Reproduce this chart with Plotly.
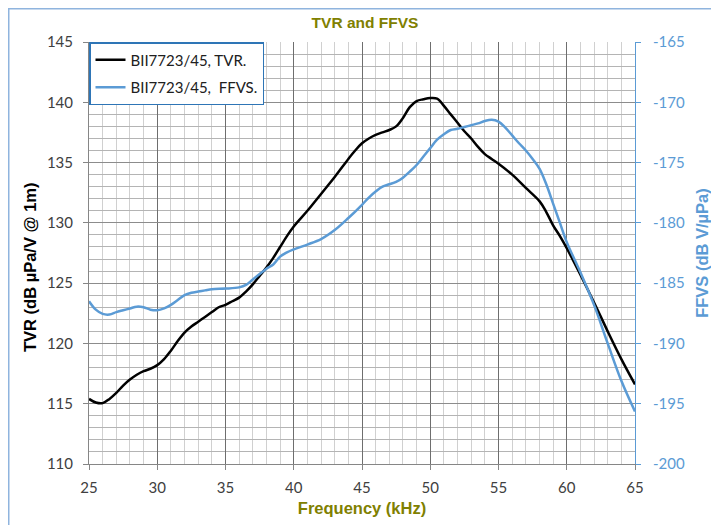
import plotly.graph_objects as go

# Frequency (kHz)
tvr_freq = [25, 25.5, 26, 26.5, 27, 27.5, 28, 28.5, 29, 29.5, 30, 30.5, 31, 31.5, 32, 32.5,
            33, 33.5, 34, 34.5, 35, 35.5, 36, 36.5, 37, 37.5, 38, 38.5, 39, 39.5, 40, 41,
            42, 43, 44, 44.5, 45, 45.5, 46, 46.5, 47, 47.5, 48, 48.5, 49, 49.5, 50, 50.5,
            51, 51.5, 52, 52.5, 53, 53.5, 54, 54.5, 55, 56, 57, 58, 58.5, 59, 59.5, 60, 61,
            62, 63, 64, 65]
# TVR (dB uPa/V @ 1m)
tvr_vals = [115.4, 115.1, 115.05, 115.4, 115.9, 116.5, 117.0, 117.4, 117.7, 117.9, 118.2,
            118.7, 119.4, 120.2, 120.9, 121.4, 121.8, 122.2, 122.6, 123.0, 123.2, 123.5,
            123.8, 124.3, 124.9, 125.6, 126.3, 127.1, 128.0, 128.9, 129.7, 131.0, 132.4,
            133.8, 135.3, 136.0, 136.6, 137.0, 137.3, 137.5, 137.7, 138.0, 138.7, 139.6,
            140.1, 140.25, 140.35, 140.3, 139.7, 139.0, 138.3, 137.6, 137.0, 136.3, 135.7,
            135.3, 134.9, 134.0, 132.9, 131.8, 130.9, 129.8, 128.9, 127.9, 125.7, 123.4,
            121.0, 118.7, 116.6]

ffvs_freq = [25, 25.5, 26, 26.5, 27, 27.5, 28, 28.5, 29, 29.5, 30, 30.5, 31, 31.5, 32, 32.5,
             33, 33.5, 34, 35, 36, 36.5, 37, 37.5, 38, 38.5, 39, 39.5, 40, 41, 42, 43, 44,
             45, 45.5, 46, 46.5, 47, 47.5, 48, 48.5, 49, 49.5, 50, 50.5, 51, 51.5, 52, 52.5,
             53, 53.5, 54, 54.5, 55, 55.5, 56, 56.5, 57, 57.5, 58, 58.5, 59, 59.5, 60, 61,
             62, 63, 64, 65]
# FFVS (dB V/uPa)
ffvs_vals = [-186.5, -187.2, -187.55, -187.6, -187.4, -187.25, -187.1, -186.95, -187.0,
             -187.2, -187.25, -187.1, -186.8, -186.4, -186.0, -185.8, -185.7, -185.6,
             -185.5, -185.45, -185.35, -185.15, -184.7, -184.25, -183.8, -183.45, -182.8,
             -182.45, -182.2, -181.8, -181.35, -180.6, -179.6, -178.5, -177.9, -177.4,
             -177.0, -176.8, -176.6, -176.25, -175.75, -175.2, -174.5, -173.8, -173.1,
             -172.65, -172.3, -172.2, -172.05, -171.9, -171.75, -171.55, -171.45, -171.6,
             -172.1, -172.75, -173.4, -174.0, -174.7, -175.5, -176.8, -178.4, -180.0,
             -181.6, -184.1, -186.8, -190.0, -193.1, -195.65]

x_ticks = [25, 30, 35, 40, 45, 50, 55, 60, 65]
ffvs_ticks = [-200, -195, -190, -185, -180, -175, -170, -165]
ffvs_tick_text = ["-200", "-195", "-190", "-185", "-180", "-175", "-170", "-165"]

OLIVE = "#808000"
BLUE = "#5B9BD5"
FONT = "Lato"
TITLE_FONT = "Liberation Sans"

# page body has an 8px default margin
OFF = 8
W, H = 719, 525
L, T = 89 - OFF, 42 - OFF
R = W - (635 - OFF)
B = H - (464 - OFF)
pw, ph = W - L - R, H - T - B

fig = go.Figure()
fig.add_trace(go.Scatter(x=tvr_freq, y=tvr_vals, name="BII7723/45, TVR.", legendgroup="a",
                         mode="lines", line=dict(color="black", width=2.5, shape="spline")))
fig.add_trace(go.Scatter(x=ffvs_freq, y=ffvs_vals, name="BII7723/45,  FFVS.", legendgroup="b",
                         yaxis="y2", mode="lines",
                         line=dict(color=BLUE, width=2.5, shape="spline")))

fig.update_layout(
    width=W, height=H,
    margin=dict(l=L, r=R, t=T, b=B, autoexpand=False),
    paper_bgcolor="white", plot_bgcolor="white",
    font=dict(family=FONT, size=15, color="#404040"),
    title=dict(text="<b>TVR and FFVS</b>", x=(365 - OFF) / W, xanchor="center",
               y=1 - (23 - OFF) / H, yanchor="middle",
               font=dict(family=TITLE_FONT, size=15.5, color=OLIVE)),
    xaxis=dict(range=[25, 65], tickvals=x_ticks, showline=True, linecolor="#868686",
               linewidth=1, ticks="outside", ticklen=5, tickcolor="#868686",
               showgrid=True, gridcolor="#6E6E6E", gridwidth=1,
               minor=dict(dtick=1, showgrid=True, gridcolor="#D0D0D0", gridwidth=1),
               zeroline=False, tickfont=dict(family=FONT, size=15, color="#404040"),
               ticklabelstandoff=5,
               title=dict(text="<b>Frequency (kHz)</b>", standoff=7,
                          font=dict(family=TITLE_FONT, size=16.5, color=OLIVE))),
    yaxis=dict(range=[110, 145], dtick=5, showline=True, linecolor="#868686",
               linewidth=1, ticks="outside", ticklen=5, tickcolor="#868686",
               showgrid=True, gridcolor="#8C8C8C", gridwidth=1,
               minor=dict(dtick=1, showgrid=True, gridcolor="#B4B4B4", gridwidth=1),
               zeroline=False, tickfont=dict(family=FONT, size=15, color="#404040"),
               ticklabelstandoff=7),
    yaxis2=dict(range=[-200, -165], tickvals=ffvs_ticks, ticktext=ffvs_tick_text,
                overlaying="y", side="right",
                showline=True, linecolor=BLUE, linewidth=1, ticks="outside", ticklen=5,
                tickcolor=BLUE, showgrid=False, zeroline=False,
                tickfont=dict(family=FONT, size=15, color=BLUE),
                ticklabelstandoff=9,
                title=dict(text="<b>FFVS (dB V/µPa)</b>", standoff=12,
                           font=dict(family=TITLE_FONT, size=16.5, color=BLUE))),
    legend=dict(x=0, y=1, xanchor="left", yanchor="top", bgcolor="white",
                bordercolor="#2E75B6", borderwidth=1.5, itemwidth=30,
                font=dict(family=FONT, size=15, color="#202020"),
                tracegroupgap=5),
    showlegend=True,
    annotations=[dict(text="<b>TVR (dB µPa/V @ 1m)</b>", textangle=-90,
                      xref="paper", yref="paper",
                      x=(30 - OFF - L) / pw, y=1 - (267 - 42) / ph,
                      xanchor="center", yanchor="middle", showarrow=False,
                      font=dict(family=TITLE_FONT, size=16.5, color="black"))],
    shapes=[dict(type="rect", xref="paper", yref="paper",
                 x0=(0.75 - L) / pw, x1=(W + 4 - L) / pw,
                 y0=-(B + 4) / ph, y1=1 + (T - 0.75) / ph,
                 line=dict(color="#8FB4DE", width=1.5), fillcolor="rgba(0,0,0,0)")],
)

fig.write_html("out.html")
